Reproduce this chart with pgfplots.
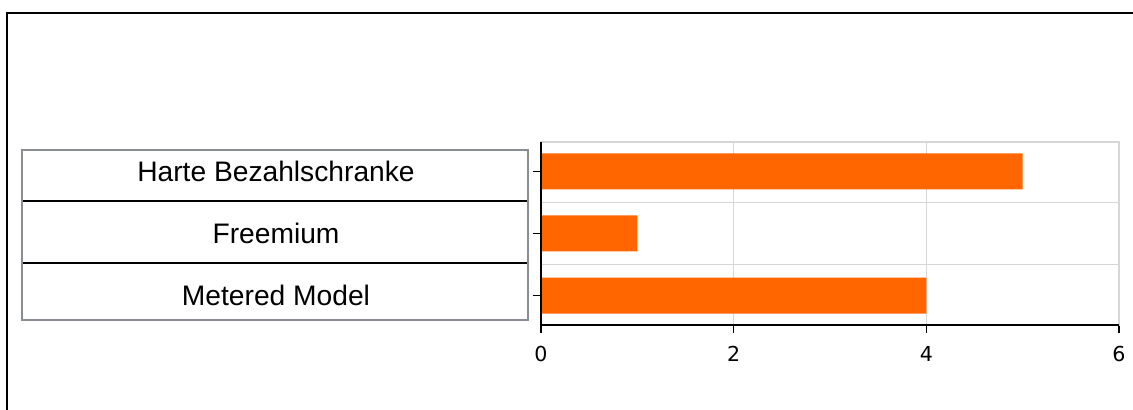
\documentclass[border=0pt]{standalone}
\usepackage{pgfplots}
\pgfplotsset{compat=1.18}
\usepackage{fontspec}
\setmainfont{Liberation Sans}
\newfontfamily\dejavu{DejaVu Sans}
\definecolor{barorange}{HTML}{FF6600}
\definecolor{gridgray}{HTML}{D6D6D6}
\definecolor{boxgray}{HTML}{8A8D91}
\begin{document}
\begin{tikzpicture}
\useasboundingbox (-270.5pt,-42.5pt) rectangle (296pt,162.5pt);
\begin{axis}[
  at={(0,0)}, anchor=south west,
  scale only axis,
  width=289pt, height=91.5pt,
  xmin=0, xmax=6,
  ymin=-0.47, ymax=2.47,
  xtick={0,2,4,6},
  ytick={0,1,2},
  yticklabels={Metered Model, Freemium, Harte Bezahlschranke},
  minor ytick={0.5,1.5},
  xmajorgrids=true,
  yminorgrids=true,
  grid style={gridgray, line width=0.6pt},
  minor grid style={gridgray, line width=0.6pt},
  axis line style={gridgray, line width=0.6pt},
  tick align=outside,
  xtick pos=bottom, ytick pos=left,
  major tick length=4pt,
  minor tick length=0pt,
  tick style={black, line width=0.6pt},
  /pgf/number format/assume math mode=true,
  xticklabel style={font=\dejavu\fontsize{10.3}{11}\selectfont, yshift=-3pt},
  yticklabel style={font=\fontsize{14.1}{15}\selectfont, anchor=center, xshift=-128.5pt},
  xbar,
  bar width=18pt,
  clip=false,
]
\addplot[fill=barorange, draw=none] coordinates {(4,0) (1,1) (5,2)};
\draw[black, line width=0.8pt] (rel axis cs:0,1) -- (rel axis cs:0,0) -- (rel axis cs:1,0);
\end{axis}
% outer frame
\draw[black, line width=1pt] (-267pt,-45pt) -- (-267pt,156pt) -- (300pt,156pt);
% label box
\draw[boxgray, line width=1pt] (-259.5pt,2.5pt) rectangle (-6.5pt,87.5pt);
\draw[black, line width=0.9pt] (-259pt,62pt) -- (-7pt,62pt);
\draw[black, line width=0.9pt] (-259pt,31pt) -- (-7pt,31pt);
\end{tikzpicture}
\end{document}
